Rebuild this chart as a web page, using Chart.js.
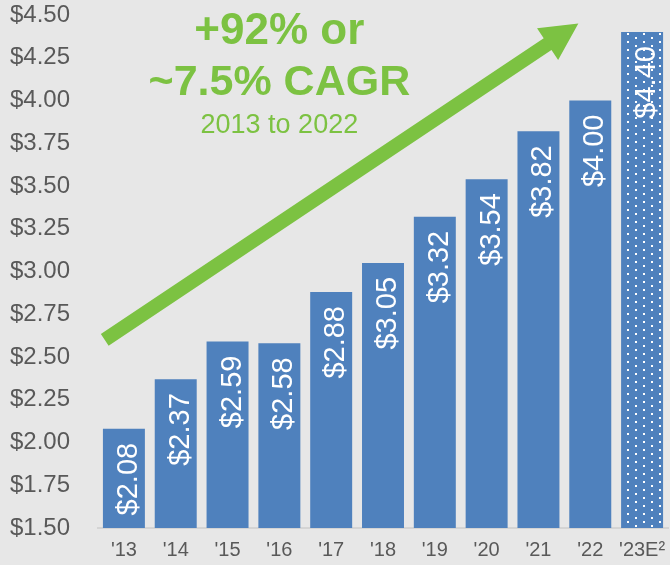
<!DOCTYPE html>
<html>
<head>
<meta charset="utf-8">
<script src="https://cdn.jsdelivr.net/npm/chart.js@4.4.0/dist/chart.umd.min.js"></script>
<style>
  html, body { margin: 0; padding: 0; background: #e7e7e7; }
  #wrap { width: 670px; height: 565px; }
</style>
</head>
<body>
<div id="wrap"><canvas id="myChart"></canvas></div>
<script>
// dividend per share, '13 to '23 estimate
var years = ["'13", "'14", "'15", "'16", "'17", "'18", "'19", "'20", "'21", "'22", "'23E²"];
var dividend = [2.08, 2.37, 2.59, 2.58, 2.88, 3.05, 3.32, 3.54, 3.82, 4.00, 4.40];
var valueLabels = ["$2.08", "$2.37", "$2.59", "$2.58", "$2.88", "$3.05", "$3.32", "$3.54", "$3.82", "$4.00", "$4.40"];
var calloutLines = ["+92% or", "~7.5% CAGR", "2013 to 2022"];

var blue = "#4f81bd";
var green = "#7cc242";

// dotted fill for the estimate bar (staggered white dots)
function dots() {
    var c = document.createElement("canvas");
    c.width = 16; c.height = 8;
    var g = c.getContext("2d");
    g.fillStyle = blue;
    g.fillRect(0, 0, 16, 8);
    g.fillStyle = "#ffffff";
    g.fillRect(3, 1, 2, 2);
    g.fillRect(11, 5, 2, 2);
    return g.createPattern(c, "repeat");
}

var colors = [];
for (var i = 0; i < dividend.length; i++) {
    colors.push(i == dividend.length - 1 ? dots() : blue);
}

var barLabels = {
    id: "barLabels",
    afterDatasetsDraw: function(chart) {
        var ctx = chart.ctx;
        var meta = chart.getDatasetMeta(0);
        ctx.save();
        ctx.fillStyle = "#ffffff";
        ctx.font = "29px 'Liberation Sans', Arial, sans-serif";
        ctx.textAlign = "right";
        ctx.textBaseline = "alphabetic";
        meta.data.forEach(function(bar, i) {
            ctx.save();
            ctx.translate(bar.x + 13, bar.y + 14);
            ctx.rotate(-Math.PI / 2);
            ctx.fillText(valueLabels[i], 0, 0);
            ctx.restore();
        });
        ctx.restore();
    }
};

var arrow = {
    id: "arrow",
    afterDatasetsDraw: function(chart) {
        var ctx = chart.ctx;
        var xs = chart.scales.x, ys = chart.scales.y;
        var x0 = xs.getPixelForValue(-0.37), y0 = ys.getPixelForValue(2.6);
        var x1 = xs.getPixelForValue(8.77), y1 = ys.getPixelForValue(4.45);
        var dx = x1 - x0, dy = y1 - y0;
        var len = Math.sqrt(dx * dx + dy * dy);
        var ux = dx / len, uy = dy / len;
        var headLen = 37, headHalf = 19, shaft = 7;
        var bx = x1 - ux * headLen, by = y1 - uy * headLen;
        ctx.save();
        ctx.fillStyle = green;
        ctx.beginPath();
        ctx.moveTo(x0 - uy * shaft, y0 + ux * shaft);
        ctx.lineTo(bx - uy * shaft, by + ux * shaft);
        ctx.lineTo(bx - uy * headHalf, by + ux * headHalf);
        ctx.lineTo(x1, y1);
        ctx.lineTo(bx + uy * headHalf, by - ux * headHalf);
        ctx.lineTo(bx + uy * shaft, by - ux * shaft);
        ctx.lineTo(x0 + uy * shaft, y0 - ux * shaft);
        ctx.closePath();
        ctx.fill();

        // callout text
        var cx = xs.getPixelForValue(3.0);
        ctx.textAlign = "center";
        ctx.textBaseline = "alphabetic";
        ctx.font = "bold 44px 'Liberation Sans', Arial, sans-serif";
        ctx.fillText(calloutLines[0], cx, ys.getPixelForValue(4.33));
        ctx.font = "bold 43px 'Liberation Sans', Arial, sans-serif";
        ctx.fillText(calloutLines[1], cx, ys.getPixelForValue(4.03));
        ctx.font = "27px 'Liberation Sans', Arial, sans-serif";
        ctx.fillText(calloutLines[2], cx, ys.getPixelForValue(3.81));
        ctx.restore();
    }
};

var chart = new Chart(document.getElementById("myChart"), {
    type: "bar",
    data: {
        labels: years,
        datasets: [{
            data: dividend,
            backgroundColor: colors,
            categoryPercentage: 1.0,
            barPercentage: 0.81
        }]
    },
    options: {
        responsive: true,
        maintainAspectRatio: false,
        animation: false,
        layout: { padding: { top: 0, right: 2, left: 0, bottom: 0 } },
        plugins: {
            legend: { display: false },
            tooltip: { enabled: false }
        },
        scales: {
            x: {
                grid: { display: false, drawTicks: false },
                border: { display: true, color: "#d4d4d4", width: 2 },
                afterFit: function(s) {
                    s.height = 37;
                    s.paddingLeft = 0;
                    s.paddingRight = 0;
                },
                ticks: {
                    color: "#595959",
                    padding: 10,
                    maxRotation: 0,
                    minRotation: 0,
                    autoSkip: false,
                    font: { family: "'Liberation Sans', Arial, sans-serif", size: 20 }
                }
            },
            y: {
                min: 1.5,
                max: 4.5,
                grid: { display: false, drawTicks: false },
                border: { display: false },
                afterFit: function(s) {
                    s.width = 98;
                    s.paddingTop = 15;
                    s.paddingBottom = 0;
                },
                ticks: {
                    stepSize: 0.25,
                    color: "#595959",
                    padding: 28,
                    font: { family: "'Liberation Sans', Arial, sans-serif", size: 24 },
                    callback: function(v) { return "$" + Number(v).toFixed(2); }
                }
            }
        }
    },
    plugins: [barLabels, arrow]
});
</script>
</body>
</html>
